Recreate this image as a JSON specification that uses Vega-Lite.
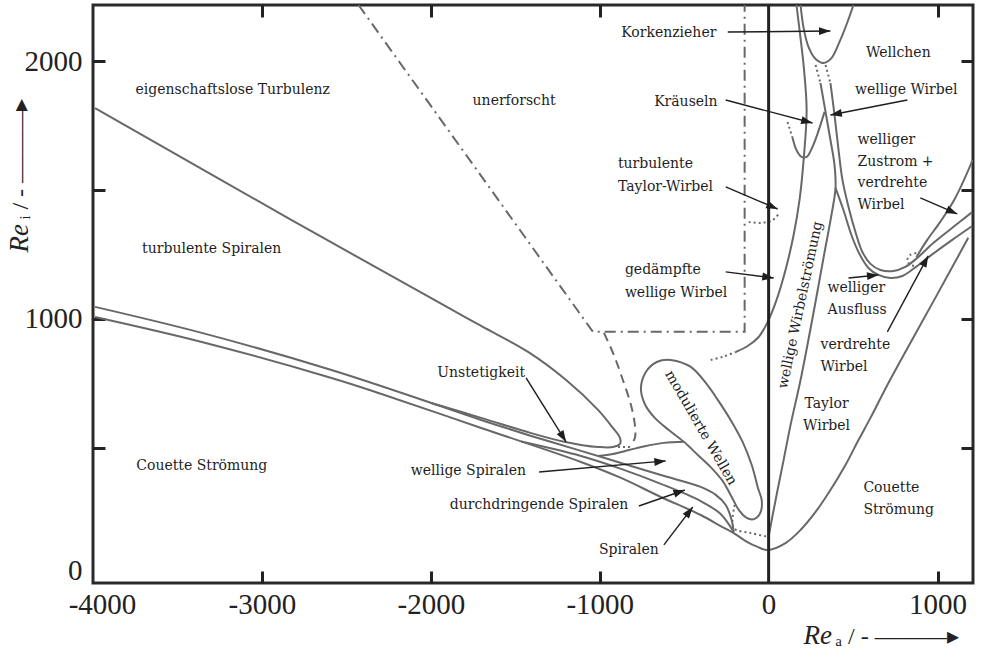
{
  "$schema": "https://vega.github.io/schema/vega-lite/v6.json",
  "width": 880,
  "height": 578,
  "autosize": {"type": "none"},
  "padding": {"left": 93, "top": 5, "right": 9, "bottom": 69},
  "background": "white",
  "config": {
    "view": {"stroke": "#2a2a2a", "strokeWidth": 3},
    "axis": {
      "domain": false, "grid": false, "tickColor": "#222222", "tickWidth": 3, "tickSize": -12,
      "labelFont": "Liberation Serif", "labelFontSize": 29, "labelColor": "#222222",
      "titleFont": "Liberation Serif", "titleColor": "#222222", "titleFontWeight": "normal",
      "labelOverlap": false, "labelFlush": false
    }
  },
  "resolve": {"axis": {"x": "independent", "y": "independent"}},
  "datasets": {
    "curves": [
      {"id":"A","kind":"boundary","i":1,"x":-3988,"y":1819},{"id":"A","kind":"boundary","i":2,"x":-2824,"y":1384},{"id":"A","kind":"boundary","i":3,"x":-1979,"y":1074},{"id":"A","kind":"boundary","i":4,"x":-1702,"y":973},{"id":"A","kind":"boundary","i":5,"x":-1424,"y":872},{"id":"A","kind":"boundary","i":6,"x":-1199,"y":763},{"id":"A","kind":"boundary","i":7,"x":-1010,"y":647},{"id":"A","kind":"boundary","i":8,"x":-922,"y":577},{"id":"A","kind":"boundary","i":9,"x":-880,"y":538},{"id":"A","kind":"boundary","i":10,"x":-880,"y":515},{"id":"A","kind":"boundary","i":11,"x":-922,"y":503},{"id":"A","kind":"boundary","i":12,"x":-1010,"y":503},{"id":"A","kind":"boundary","i":13,"x":-1111,"y":511},{"id":"A","kind":"boundary","i":14,"x":-1211,"y":523},{"id":"A","kind":"boundary","i":15,"x":-1406,"y":557},{"id":"A","kind":"boundary","i":16,"x":-1702,"y":616},{"id":"A","kind":"boundary","i":17,"x":-1997,"y":674},
      {"id":"S1","kind":"boundary","i":1,"x":-3988,"y":1047},{"id":"S1","kind":"boundary","i":2,"x":-3356,"y":946},{"id":"S1","kind":"boundary","i":3,"x":-2588,"y":802},{"id":"S1","kind":"boundary","i":4,"x":-1997,"y":674},{"id":"S1","kind":"boundary","i":5,"x":-1702,"y":608},{"id":"S1","kind":"boundary","i":6,"x":-1406,"y":546},{"id":"S1","kind":"boundary","i":7,"x":-1111,"y":488},{"id":"S1","kind":"boundary","i":8,"x":-874,"y":441},{"id":"S1","kind":"boundary","i":9,"x":-638,"y":394},{"id":"S1","kind":"boundary","i":10,"x":-402,"y":348},{"id":"S1","kind":"boundary","i":11,"x":-313,"y":317},{"id":"S1","kind":"boundary","i":12,"x":-254,"y":278},{"id":"S1","kind":"boundary","i":13,"x":-219,"y":220},{"id":"S1","kind":"boundary","i":14,"x":-207,"y":173},
      {"id":"S2","kind":"boundary","i":1,"x":-3988,"y":1008},{"id":"S2","kind":"boundary","i":2,"x":-3356,"y":911},{"id":"S2","kind":"boundary","i":3,"x":-2588,"y":771},{"id":"S2","kind":"boundary","i":4,"x":-2292,"y":709},{"id":"S2","kind":"boundary","i":5,"x":-1702,"y":577},{"id":"S2","kind":"boundary","i":6,"x":-1111,"y":445},{"id":"S2","kind":"boundary","i":7,"x":-874,"y":383},{"id":"S2","kind":"boundary","i":8,"x":-638,"y":309},{"id":"S2","kind":"boundary","i":9,"x":-402,"y":239},{"id":"S2","kind":"boundary","i":10,"x":-284,"y":196},{"id":"S2","kind":"boundary","i":11,"x":-207,"y":169},{"id":"S2","kind":"boundary","i":12,"x":-136,"y":138},{"id":"S2","kind":"boundary","i":13,"x":-65,"y":115},{"id":"S2","kind":"boundary","i":14,"x":-6,"y":103},{"id":"S2","kind":"boundary","i":15,"x":100,"y":130},{"id":"S2","kind":"boundary","i":16,"x":189,"y":181},{"id":"S2","kind":"boundary","i":17,"x":278,"y":251},{"id":"S2","kind":"boundary","i":18,"x":366,"y":336},{"id":"S2","kind":"boundary","i":19,"x":455,"y":433},{"id":"S2","kind":"boundary","i":20,"x":532,"y":530},{"id":"S2","kind":"boundary","i":21,"x":603,"y":616},{"id":"S2","kind":"boundary","i":22,"x":703,"y":744},{"id":"S2","kind":"boundary","i":23,"x":839,"y":907},{"id":"S2","kind":"boundary","i":24,"x":987,"y":1082},{"id":"S2","kind":"boundary","i":25,"x":1182,"y":1315},
      {"id":"S3","kind":"boundary","i":1,"x":-1465,"y":524},{"id":"S3","kind":"boundary","i":2,"x":-1111,"y":468},{"id":"S3","kind":"boundary","i":3,"x":-874,"y":418},{"id":"S3","kind":"boundary","i":4,"x":-638,"y":360},{"id":"S3","kind":"boundary","i":5,"x":-402,"y":293},{"id":"S3","kind":"boundary","i":6,"x":-284,"y":243},{"id":"S3","kind":"boundary","i":7,"x":-207,"y":173},
      {"id":"WS","kind":"boundary","i":1,"x":-1010,"y":468},{"id":"WS","kind":"boundary","i":2,"x":-922,"y":476},{"id":"WS","kind":"boundary","i":3,"x":-827,"y":491},{"id":"WS","kind":"boundary","i":4,"x":-727,"y":507},{"id":"WS","kind":"boundary","i":5,"x":-620,"y":519},{"id":"WS","kind":"boundary","i":6,"x":-502,"y":523},
      {"id":"tear","kind":"boundary","i":1,"x":-579,"y":841},{"id":"tear","kind":"boundary","i":2,"x":-461,"y":814},{"id":"tear","kind":"boundary","i":3,"x":-372,"y":752},{"id":"tear","kind":"boundary","i":4,"x":-301,"y":686},{"id":"tear","kind":"boundary","i":5,"x":-225,"y":608},{"id":"tear","kind":"boundary","i":6,"x":-154,"y":523},{"id":"tear","kind":"boundary","i":7,"x":-100,"y":433},{"id":"tear","kind":"boundary","i":8,"x":-65,"y":348},{"id":"tear","kind":"boundary","i":9,"x":-41,"y":297},{"id":"tear","kind":"boundary","i":10,"x":-47,"y":251},{"id":"tear","kind":"boundary","i":11,"x":-83,"y":224},{"id":"tear","kind":"boundary","i":12,"x":-130,"y":228},{"id":"tear","kind":"boundary","i":13,"x":-177,"y":259},{"id":"tear","kind":"boundary","i":14,"x":-225,"y":317},{"id":"tear","kind":"boundary","i":15,"x":-272,"y":371},{"id":"tear","kind":"boundary","i":16,"x":-343,"y":425},{"id":"tear","kind":"boundary","i":17,"x":-419,"y":472},{"id":"tear","kind":"boundary","i":18,"x":-502,"y":523},{"id":"tear","kind":"boundary","i":19,"x":-591,"y":569},{"id":"tear","kind":"boundary","i":20,"x":-674,"y":616},{"id":"tear","kind":"boundary","i":21,"x":-733,"y":670},{"id":"tear","kind":"boundary","i":22,"x":-756,"y":732},{"id":"tear","kind":"boundary","i":23,"x":-727,"y":794},{"id":"tear","kind":"boundary","i":24,"x":-662,"y":833},
      {"id":"TW","kind":"boundary","i":1,"x":0,"y":154},{"id":"TW","kind":"boundary","i":2,"x":24,"y":239},{"id":"TW","kind":"boundary","i":3,"x":53,"y":336},{"id":"TW","kind":"boundary","i":4,"x":89,"y":453},{"id":"TW","kind":"boundary","i":5,"x":130,"y":589},{"id":"TW","kind":"boundary","i":6,"x":189,"y":763},{"id":"TW","kind":"boundary","i":7,"x":260,"y":1004},{"id":"TW","kind":"boundary","i":8,"x":325,"y":1237},{"id":"TW","kind":"boundary","i":9,"x":372,"y":1404},{"id":"TW","kind":"boundary","i":10,"x":396,"y":1509},{"id":"TW","kind":"boundary","i":11,"x":390,"y":1598},{"id":"TW","kind":"boundary","i":12,"x":366,"y":1695},{"id":"TW","kind":"boundary","i":13,"x":337,"y":1804},{"id":"TW","kind":"boundary","i":14,"x":307,"y":1916},
      {"id":"AU","kind":"boundary","i":1,"x":366,"y":1916},{"id":"AU","kind":"boundary","i":2,"x":390,"y":1792},{"id":"AU","kind":"boundary","i":3,"x":414,"y":1656},{"id":"AU","kind":"boundary","i":4,"x":437,"y":1540},{"id":"AU","kind":"boundary","i":5,"x":473,"y":1435},{"id":"AU","kind":"boundary","i":6,"x":514,"y":1338},{"id":"AU","kind":"boundary","i":7,"x":555,"y":1260},{"id":"AU","kind":"boundary","i":8,"x":603,"y":1214},{"id":"AU","kind":"boundary","i":9,"x":662,"y":1190},{"id":"AU","kind":"boundary","i":10,"x":739,"y":1186},{"id":"AU","kind":"boundary","i":11,"x":809,"y":1202},{"id":"AU","kind":"boundary","i":12,"x":880,"y":1237},{"id":"AU","kind":"boundary","i":13,"x":975,"y":1295},{"id":"AU","kind":"boundary","i":14,"x":1093,"y":1357},{"id":"AU","kind":"boundary","i":15,"x":1205,"y":1415},
      {"id":"AL","kind":"boundary","i":1,"x":396,"y":1509},{"id":"AL","kind":"boundary","i":2,"x":443,"y":1423},{"id":"AL","kind":"boundary","i":3,"x":490,"y":1326},{"id":"AL","kind":"boundary","i":4,"x":538,"y":1252},{"id":"AL","kind":"boundary","i":5,"x":591,"y":1198},{"id":"AL","kind":"boundary","i":6,"x":650,"y":1171},{"id":"AL","kind":"boundary","i":7,"x":721,"y":1159},{"id":"AL","kind":"boundary","i":8,"x":792,"y":1167},{"id":"AL","kind":"boundary","i":9,"x":863,"y":1198},{"id":"AL","kind":"boundary","i":10,"x":957,"y":1245},{"id":"AL","kind":"boundary","i":11,"x":1087,"y":1307},{"id":"AL","kind":"boundary","i":12,"x":1205,"y":1361},
      {"id":"ZU","kind":"boundary","i":1,"x":1208,"y":1617},{"id":"ZU","kind":"boundary","i":2,"x":1105,"y":1470},{"id":"ZU","kind":"boundary","i":3,"x":1016,"y":1377},{"id":"ZU","kind":"boundary","i":4,"x":939,"y":1307},{"id":"ZU","kind":"boundary","i":5,"x":875,"y":1240},
      {"id":"W","kind":"boundary","i":1,"x":-195,"y":872},{"id":"W","kind":"boundary","i":2,"x":-124,"y":895},{"id":"W","kind":"boundary","i":3,"x":-59,"y":930},{"id":"W","kind":"boundary","i":4,"x":-6,"y":988},{"id":"W","kind":"boundary","i":5,"x":47,"y":1074},{"id":"W","kind":"boundary","i":6,"x":100,"y":1190},{"id":"W","kind":"boundary","i":7,"x":148,"y":1326},{"id":"W","kind":"boundary","i":8,"x":183,"y":1462},{"id":"W","kind":"boundary","i":9,"x":207,"y":1617},{"id":"W","kind":"boundary","i":10,"x":225,"y":1811},{"id":"W","kind":"boundary","i":11,"x":207,"y":1986},{"id":"W","kind":"boundary","i":12,"x":183,"y":2122},{"id":"W","kind":"boundary","i":13,"x":165,"y":2219},
      {"id":"KO","kind":"boundary","i":1,"x":189,"y":2219},{"id":"KO","kind":"boundary","i":2,"x":207,"y":2130},{"id":"KO","kind":"boundary","i":3,"x":236,"y":2056},{"id":"KO","kind":"boundary","i":4,"x":278,"y":2009},{"id":"KO","kind":"boundary","i":5,"x":325,"y":1994},{"id":"KO","kind":"boundary","i":6,"x":372,"y":2013},{"id":"KO","kind":"boundary","i":7,"x":419,"y":2075},{"id":"KO","kind":"boundary","i":8,"x":467,"y":2153},{"id":"KO","kind":"boundary","i":9,"x":502,"y":2219},
      {"id":"KR","kind":"boundary","i":1,"x":142,"y":1703},{"id":"KR","kind":"boundary","i":2,"x":165,"y":1656},{"id":"KR","kind":"boundary","i":3,"x":195,"y":1629},{"id":"KR","kind":"boundary","i":4,"x":225,"y":1629},{"id":"KR","kind":"boundary","i":5,"x":254,"y":1660},{"id":"KR","kind":"boundary","i":6,"x":289,"y":1718},{"id":"KR","kind":"boundary","i":7,"x":331,"y":1804},
      {"id":"d1","kind":"uncertain","i":1,"x":112,"y":1765},{"id":"d1","kind":"uncertain","i":2,"x":142,"y":1703},
      {"id":"d2","kind":"uncertain","i":1,"x":278,"y":1986},{"id":"d2","kind":"uncertain","i":2,"x":307,"y":1916},
      {"id":"d3","kind":"uncertain","i":1,"x":337,"y":1986},{"id":"d3","kind":"uncertain","i":2,"x":366,"y":1916},
      {"id":"d4","kind":"uncertain","i":1,"x":-343,"y":841},{"id":"d4","kind":"uncertain","i":2,"x":-272,"y":853},{"id":"d4","kind":"uncertain","i":3,"x":-195,"y":872},
      {"id":"d5","kind":"uncertain","i":1,"x":-118,"y":1377},{"id":"d5","kind":"uncertain","i":2,"x":-47,"y":1373},{"id":"d5","kind":"uncertain","i":3,"x":24,"y":1384},{"id":"d5","kind":"uncertain","i":4,"x":65,"y":1412},
      {"id":"d6","kind":"uncertain","i":1,"x":874,"y":1256},{"id":"d6","kind":"uncertain","i":2,"x":839,"y":1249},{"id":"d6","kind":"uncertain","i":3,"x":821,"y":1229},{"id":"d6","kind":"uncertain","i":4,"x":839,"y":1210},{"id":"d6","kind":"uncertain","i":5,"x":880,"y":1206},
      {"id":"d7","kind":"uncertain","i":1,"x":-201,"y":278},{"id":"d7","kind":"uncertain","i":2,"x":-207,"y":189},{"id":"d7","kind":"uncertain","i":3,"x":-106,"y":169},{"id":"d7","kind":"uncertain","i":4,"x":0,"y":154},
      {"id":"d8","kind":"uncertain","i":1,"x":-821,"y":503},{"id":"d8","kind":"uncertain","i":2,"x":-910,"y":503},
      {"id":"E","kind":"estimated","i":1,"x":-975,"y":946},{"id":"E","kind":"estimated","i":2,"x":-916,"y":860},{"id":"E","kind":"estimated","i":3,"x":-863,"y":763},{"id":"E","kind":"estimated","i":4,"x":-815,"y":666},{"id":"E","kind":"estimated","i":5,"x":-792,"y":589},{"id":"E","kind":"estimated","i":6,"x":-792,"y":538},{"id":"E","kind":"estimated","i":7,"x":-821,"y":507},
      {"id":"U","kind":"unexplored","i":1,"x":-2428,"y":2219},{"id":"U","kind":"unexplored","i":2,"x":-1040,"y":950},{"id":"U","kind":"unexplored","i":3,"x":-142,"y":950},{"id":"U","kind":"unexplored","i":4,"x":-142,"y":2219}
    ],
    "arrows": [
      {"x":-242,"y":2114,"x2":366,"y2":2118},
      {"x":-254,"y":1850,"x2":260,"y2":1761},
      {"x":821,"y":1850,"x2":366,"y2":1792},
      {"x":-254,"y":1513,"x2":53,"y2":1427},
      {"x":898,"y":1470,"x2":1117,"y2":1408},
      {"x":-254,"y":1183,"x2":30,"y2":1159},
      {"x":473,"y":1159,"x2":650,"y2":1171},
      {"x":703,"y":950,"x2":945,"y2":1245},
      {"x":-1436,"y":771,"x2":-1199,"y2":523},
      {"x":-1359,"y":406,"x2":-609,"y2":449},
      {"x":-768,"y":274,"x2":-496,"y2":336},
      {"x":-620,"y":123,"x2":-449,"y2":270}
    ],
    "labelsCenter": [
      {"text":"eigenschaftslose Turbulenz","x":-3173,"y":1889},
      {"text":"unerforscht","x":-1507,"y":1846},
      {"text":"turbulente Spiralen","x":-3297,"y":1272},
      {"text":"Couette Strömung","x":-3356,"y":429},
      {"text":"Unstetigkeit","x":-1702,"y":790},
      {"text":"wellige Spiralen","x":-1778,"y":410},
      {"text":"durchdringende Spiralen","x":-1359,"y":278},
      {"text":"Spiralen","x":-827,"y":103},
      {"text":"Korkenzieher","x":-591,"y":2110},
      {"text":"Kräuseln","x":-490,"y":1843},
      {"text":"Wellchen","x":768,"y":2033},
      {"text":"wellige Wirbel","x":815,"y":1889},
      {"text":"Taylor","x":343,"y":670},
      {"text":"Wirbel","x":343,"y":585}
    ],
    "labelsLeft": [
      {"text":"turbulente","x":-892,"y":1602},
      {"text":"Taylor-Wirbel","x":-892,"y":1513},
      {"text":"gedämpfte","x":-851,"y":1190},
      {"text":"wellige Wirbel","x":-851,"y":1101},
      {"text":"welliger","x":526,"y":1695},
      {"text":"Zustrom +","x":526,"y":1610},
      {"text":"verdrehte","x":526,"y":1528},
      {"text":"Wirbel","x":526,"y":1443},
      {"text":"welliger","x":349,"y":1120},
      {"text":"Ausfluss","x":349,"y":1035},
      {"text":"verdrehte","x":307,"y":899},
      {"text":"Wirbel","x":307,"y":814},
      {"text":"Couette","x":561,"y":344},
      {"text":"Strömung","x":561,"y":259}
    ]
  },
  "layer": [
    {
      "data": {"name": "curves"},
      "transform": [{"filter": "datum.kind == 'boundary' && datum.id != 'tear'"}],
      "mark": {"type": "line", "interpolate": "catmull-rom", "stroke": "#686868", "strokeWidth": 2, "clip": true},
      "encoding": {
        "x": {"field": "x", "type": "quantitative", "scale": {"domain": [-4000, 1210], "nice": false, "zero": false},
          "axis": {"orient": "bottom", "values": [-4000, -3000, -2000, -1000, 0, 1000],
            "labelExpr": "datum.value < 0 ? '-' + abs(datum.value) : '' + datum.value",
            "tickOpacity": {"condition": {"test": "datum.value == -4000 || datum.value == 0", "value": 0}, "value": 1},
            "labelOffset": {"condition": {"test": "datum.value == -4000", "value": 9}, "value": 0},
            "labelPadding": 19,
            "title": "Re", "titleFontStyle": "italic", "titleFontSize": 27, "titleX": 710, "titleY": 60,
            "titleAlign": "left", "titleBaseline": "alphabetic", "titleAngle": 0}},
        "y": {"field": "y", "type": "quantitative", "scale": {"domain": [-25, 2219], "nice": false, "zero": false},
          "axis": {"orient": "left", "values": [0, 500, 1000, 1500, 2000],
            "labelExpr": "datum.value % 1000 == 0 ? '' + datum.value : ''",
            "tickOpacity": {"condition": {"test": "datum.value == 0", "value": 0}, "value": 1},
            "labelOffset": {"condition": {"test": "datum.value == 0", "value": -6}, "value": 0},
            "labelPadding": 23,
            "title": "Re", "titleFontStyle": "italic", "titleFontSize": 27, "titleAngle": -90, "titleX": -66, "titleY": 247,
            "titleAlign": "left", "titleBaseline": "alphabetic"}},
        "detail": {"field": "id"},
        "order": {"field": "i", "type": "quantitative"}
      }
    },
    {
      "data": {"name": "curves"},
      "transform": [{"filter": "datum.id == 'tear'"}],
      "mark": {"type": "line", "interpolate": "cardinal-closed", "stroke": "#686868", "strokeWidth": 2, "clip": true},
      "encoding": {
        "x": {"field": "x", "type": "quantitative", "scale": {"domain": [-4000, 1210], "nice": false, "zero": false}, "axis": null},
        "y": {"field": "y", "type": "quantitative", "scale": {"domain": [-25, 2219], "nice": false, "zero": false}, "axis": null},
        "order": {"field": "i", "type": "quantitative"}
      }
    },
    {
      "data": {"name": "curves"},
      "transform": [{"filter": "datum.kind == 'uncertain'"}],
      "mark": {"type": "line", "interpolate": "catmull-rom", "stroke": "#686868", "strokeWidth": 2, "strokeDash": [2, 3], "clip": true},
      "encoding": {
        "x": {"field": "x", "type": "quantitative", "scale": {"domain": [-4000, 1210], "nice": false, "zero": false},
          "axis": {"orient": "top", "values": [-3000, -2000, -1000, 1000], "labels": false,
            "title": "ₐ / -  ———▸", "titleFontSize": 24, "titleFontStyle": "normal", "titleX": 742, "titleY": 638,
            "titleAlign": "left", "titleBaseline": "alphabetic", "titleAngle": 0}},
        "y": {"field": "y", "type": "quantitative", "scale": {"domain": [-25, 2219], "nice": false, "zero": false},
          "axis": {"orient": "right", "values": [500, 1000, 1500, 2000], "labels": false,
            "title": "ᵢ / -  ———▸", "titleFontSize": 24, "titleFontStyle": "normal", "titleAngle": -90, "titleX": -946, "titleY": 214,
            "titleAlign": "left", "titleBaseline": "alphabetic"}},
        "detail": {"field": "id"},
        "order": {"field": "i", "type": "quantitative"}
      }
    },
    {
      "data": {"name": "curves"},
      "transform": [{"filter": "datum.kind == 'estimated'"}],
      "mark": {"type": "line", "interpolate": "catmull-rom", "stroke": "#686868", "strokeWidth": 2, "strokeDash": [9, 6], "clip": true},
      "encoding": {
        "x": {"field": "x", "type": "quantitative", "scale": {"domain": [-4000, 1210], "nice": false, "zero": false}, "axis": null},
        "y": {"field": "y", "type": "quantitative", "scale": {"domain": [-25, 2219], "nice": false, "zero": false}, "axis": null},
        "order": {"field": "i", "type": "quantitative"}
      }
    },
    {
      "data": {"name": "curves"},
      "transform": [{"filter": "datum.kind == 'unexplored'"}],
      "mark": {"type": "line", "stroke": "#686868", "strokeWidth": 2, "strokeDash": [11, 5, 2, 5], "clip": true},
      "encoding": {
        "x": {"field": "x", "type": "quantitative", "scale": {"domain": [-4000, 1210], "nice": false, "zero": false}, "axis": null},
        "y": {"field": "y", "type": "quantitative", "scale": {"domain": [-25, 2219], "nice": false, "zero": false}, "axis": null},
        "order": {"field": "i", "type": "quantitative"}
      }
    },
    {
      "data": {"values": [{"x": 0}]},
      "mark": {"type": "rule", "stroke": "#222222", "strokeWidth": 3},
      "encoding": {
        "x": {"field": "x", "type": "quantitative", "scale": {"domain": [-4000, 1210], "nice": false, "zero": false}, "axis": null}
      }
    },
    {
      "data": {"name": "arrows"},
      "mark": {"type": "rule", "stroke": "#1e1e1e", "strokeWidth": 1.4},
      "encoding": {
        "x": {"field": "x", "type": "quantitative", "scale": {"domain": [-4000, 1210], "nice": false, "zero": false}, "axis": null},
        "y": {"field": "y", "type": "quantitative", "scale": {"domain": [-25, 2219], "nice": false, "zero": false}, "axis": null},
        "x2": {"field": "x2"},
        "y2": {"field": "y2"}
      }
    },
    {
      "data": {"name": "arrows"},
      "transform": [{"calculate": "atan2(-(datum.y2 - datum.y) * 0.25758, (datum.x2 - datum.x) * 0.16891) * 180 / PI", "as": "dir"}],
      "mark": {"type": "point", "shape": "M0,0L-2,-0.7L-2,0.7Z", "filled": true, "color": "#1e1e1e", "opacity": 1, "size": 130, "strokeWidth": 0},
      "encoding": {
        "x": {"field": "x2", "type": "quantitative", "scale": {"domain": [-4000, 1210], "nice": false, "zero": false}, "axis": null},
        "y": {"field": "y2", "type": "quantitative", "scale": {"domain": [-25, 2219], "nice": false, "zero": false}, "axis": null},
        "angle": {"field": "dir", "type": "quantitative", "scale": null}
      }
    },
    {
      "data": {"name": "labelsCenter"},
      "mark": {"type": "text", "font": "DejaVu Serif", "fontSize": 14, "color": "#1e1e1e", "align": "center", "baseline": "middle"},
      "encoding": {
        "x": {"field": "x", "type": "quantitative", "scale": {"domain": [-4000, 1210], "nice": false, "zero": false}, "axis": null},
        "y": {"field": "y", "type": "quantitative", "scale": {"domain": [-25, 2219], "nice": false, "zero": false}, "axis": null},
        "text": {"field": "text"}
      }
    },
    {
      "data": {"name": "labelsLeft"},
      "mark": {"type": "text", "font": "DejaVu Serif", "fontSize": 14, "color": "#1e1e1e", "align": "left", "baseline": "middle"},
      "encoding": {
        "x": {"field": "x", "type": "quantitative", "scale": {"domain": [-4000, 1210], "nice": false, "zero": false}, "axis": null},
        "y": {"field": "y", "type": "quantitative", "scale": {"domain": [-25, 2219], "nice": false, "zero": false}, "axis": null},
        "text": {"field": "text"}
      }
    },
    {
      "data": {"values": [{"text": "wellige Wirbelströmung", "x": 189, "y": 1054}]},
      "mark": {"type": "text", "font": "DejaVu Serif", "fontSize": 14, "color": "#1e1e1e", "align": "center", "baseline": "middle", "angle": -78},
      "encoding": {
        "x": {"field": "x", "type": "quantitative", "scale": {"domain": [-4000, 1210], "nice": false, "zero": false}, "axis": null},
        "y": {"field": "y", "type": "quantitative", "scale": {"domain": [-25, 2219], "nice": false, "zero": false}, "axis": null},
        "text": {"field": "text"}
      }
    },
    {
      "data": {"values": [{"text": "modulierte Wellen", "x": -402, "y": 577}]},
      "mark": {"type": "text", "font": "DejaVu Serif", "fontSize": 14, "color": "#1e1e1e", "align": "center", "baseline": "middle", "angle": 60},
      "encoding": {
        "x": {"field": "x", "type": "quantitative", "scale": {"domain": [-4000, 1210], "nice": false, "zero": false}, "axis": null},
        "y": {"field": "y", "type": "quantitative", "scale": {"domain": [-25, 2219], "nice": false, "zero": false}, "axis": null},
        "text": {"field": "text"}
      }
    }
  ]
}
